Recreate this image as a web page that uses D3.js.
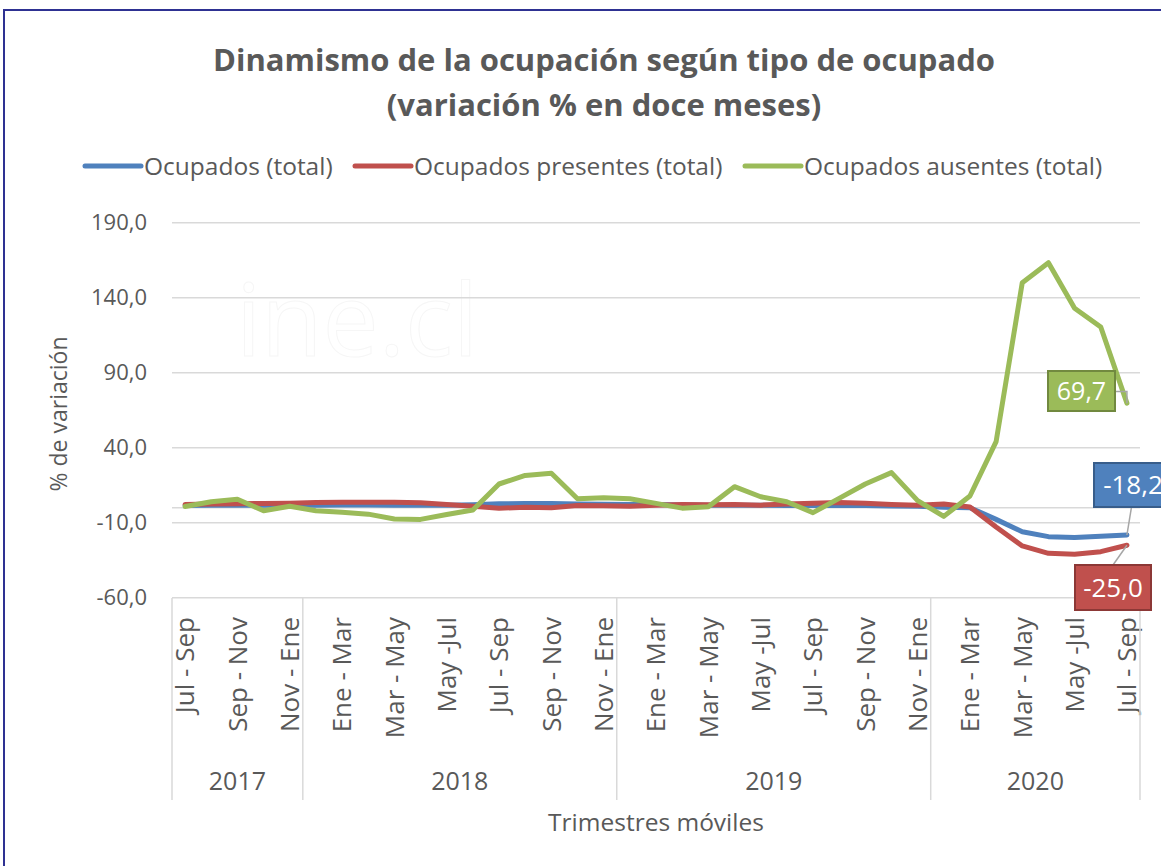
<!DOCTYPE html>
<html>
<head>
<meta charset="utf-8">
<script src="https://cdn.jsdelivr.net/npm/d3@7"></script>
<style>
  body { margin: 0; background: #fff; }
  svg text { font-family: "Open Sans", Lato, sans-serif; fill: #595959; }
</style>
</head>
<body>
<svg id="chart" width="1161" height="866"></svg>
<script>
var categories = [
  "Jul - Sep", "Ago - Oct", "Sep - Nov", "Oct - Dic", "Nov - Ene",
  "Dic - Feb", "Ene - Mar", "Feb - Abr", "Mar - May", "Abr - Jun", "May -Jul", "Jun - Ago",
  "Jul - Sep", "Ago - Oct", "Sep - Nov", "Oct - Dic", "Nov - Ene",
  "Dic - Feb", "Ene - Mar", "Feb - Abr", "Mar - May", "Abr - Jun", "May -Jul", "Jun - Ago",
  "Jul - Sep", "Ago - Oct", "Sep - Nov", "Oct - Dic", "Nov - Ene",
  "Dic - Feb", "Ene - Mar", "Feb - Abr", "Mar - May", "Abr - Jun", "May -Jul", "Jun - Ago",
  "Jul - Sep"
];
var years = ["2017", "2018", "2019", "2020"];
var yearCounts = [5, 12, 12, 8];
var yTicks = [-60, -10, 40, 90, 140, 190];

var ocupadosTotal = [1.5, 1.6, 1.7, 1.6, 1.6, 1.7, 1.8, 1.8, 1.7, 1.6, 1.6, 2.0,
  2.6, 2.8, 2.8, 2.5, 2.3, 2.2, 2.1, 1.8, 1.7, 1.6, 1.6, 1.5, 1.4, 1.5, 1.5, 1.2, 0.9,
  0.3, 0.0, -7.8, -16.0, -19.3, -19.8, -19.1, -18.2];
var ocupadosPresentes = [2.2, 2.4, 2.6, 2.8, 3.0, 3.4, 3.6, 3.7, 3.6, 3.3, 2.2, 1.0,
  -0.4, 0.3, 0.0, 1.4, 1.3, 1.0, 1.6, 2.2, 2.0, 2.2, 1.7, 2.4, 2.9, 3.4, 2.9, 2.2, 1.7,
  2.4, 0.5, -12.8, -25.5, -30.4, -31.0, -29.3, -25.0];
var ocupadosAusentes = [0.8, 4.0, 5.6, -2.0, 1.0, -2.0, -3.0, -4.3, -7.5, -7.8, -4.5, -1.5,
  15.8, 21.5, 23.0, 6.0, 6.7, 6.0, 2.9, -0.3, 0.7, 14.0, 7.3, 4.0, -3.3, 6.2, 15.8, 23.4, 4.7,
  -5.8, 7.8, 44.0, 150.0, 163.3, 133.0, 120.5, 69.7];

var seriesNames = ["Ocupados (total)", "Ocupados presentes (total)", "Ocupados ausentes (total)"];
var seriesColors = ["#4f81bd", "#c0504d", "#9bbb59"];
var seriesBorders = ["#385d8a", "#8c3836", "#71893f"];

var svg = d3.select("#chart");
var locale = d3.formatLocale({decimal: ",", thousands: ".", grouping: [3], currency: ["", ""], minus: "-"});
var fmt = locale.format(".1f");

// marco
svg.append("rect")
  .attr("x", 4).attr("y", 10).attr("width", 1200).attr("height", 900)
  .attr("fill", "none").attr("stroke", "#2e3192").attr("stroke-width", 2);

var x = d3.scaleBand()
  .domain(d3.range(categories.length))
  .range([172, 1140]);
var y = d3.scaleLinear()
  .domain([-60, 190])
  .range([597.7, 222.7]);

// marca de agua
svg.append("text")
  .attr("x", 236).attr("y", 356)
  .style("font-size", "100px")
  .style("fill", "none").attr("stroke", "#f6f6f6").attr("stroke-width", 1)
  .text("ine.cl");

// grilla
svg.append("g").selectAll("line")
  .data(yTicks.concat([0]))
  .enter().append("line")
  .attr("x1", 172).attr("x2", 1140)
  .attr("y1", function(d) { return y(d); })
  .attr("y2", function(d) { return y(d); })
  .attr("stroke", "#d9d9d9").attr("stroke-width", 1.5);

svg.append("g").selectAll("text")
  .data(yTicks)
  .enter().append("text")
  .attr("x", 147)
  .attr("y", function(d) { return y(d); })
  .attr("dy", "0.35em")
  .attr("text-anchor", "end")
  .style("font-size", "22px")
  .text(function(d) { return fmt(d); });

svg.append("text")
  .attr("transform", "translate(67,414) rotate(-90)")
  .attr("text-anchor", "middle")
  .style("font-size", "23px")
  .text("% de variación");

// eje de categorias (cada dos)
svg.append("g").selectAll("text")
  .data(categories.map(function(c, i) { return {c: c, i: i}; })
    .filter(function(d) { return d.i % 2 === 0; }))
  .enter().append("text")
  .attr("transform", function(d) {
    return "translate(" + (x(d.i) + x.bandwidth() / 2) + ",617) rotate(-90)";
  })
  .attr("dy", "0.36em")
  .attr("text-anchor", "end")
  .style("font-size", "26px")
  .text(function(d) { return d.c; });

var bounds = [0];
yearCounts.forEach(function(n, i) { bounds.push(bounds[i] + n); });
svg.append("g").selectAll("line")
  .data(bounds)
  .enter().append("line")
  .attr("x1", function(d) { return d < categories.length ? x(d) : x.range()[1]; })
  .attr("x2", function(d) { return d < categories.length ? x(d) : x.range()[1]; })
  .attr("y1", 598).attr("y2", 800)
  .attr("stroke", "#d9d9d9").attr("stroke-width", 1.5);

svg.append("g").selectAll("text")
  .data(years)
  .enter().append("text")
  .attr("x", function(d, i) {
    var a = x(bounds[i]);
    var b = bounds[i + 1] < categories.length ? x(bounds[i + 1]) : x.range()[1];
    return (a + b) / 2;
  })
  .attr("y", 781)
  .attr("dy", "0.35em")
  .attr("text-anchor", "middle")
  .style("font-size", "25px")
  .text(function(d) { return d; });

svg.append("text")
  .attr("x", 656).attr("y", 822).attr("dy", "0.35em")
  .attr("text-anchor", "middle")
  .style("font-size", "24.5px")
  .text("Trimestres móviles");

// titulo
svg.append("text")
  .attr("x", 604).attr("y", 71)
  .attr("text-anchor", "middle")
  .style("font-size", "31px").style("font-weight", "bold")
  .text("Dinamismo de la ocupación según tipo de ocupado");
svg.append("text")
  .attr("x", 604).attr("y", 116)
  .attr("text-anchor", "middle")
  .style("font-size", "31px").style("font-weight", "bold")
  .text("(variación % en doce meses)");

// series
var allSeries = [ocupadosTotal, ocupadosPresentes, ocupadosAusentes];
var line = d3.line()
  .x(function(d, i) { return x(i) + x.bandwidth() / 2; })
  .y(function(d) { return y(d); });

svg.append("g").selectAll("path")
  .data(allSeries)
  .enter().append("path")
  .attr("d", line)
  .attr("fill", "none")
  .attr("stroke", function(d, i) { return seriesColors[i]; })
  .attr("stroke-width", 5)
  .attr("stroke-linejoin", "round")
  .attr("stroke-linecap", "round");

// leyenda
var legendX = [85, 355, 745];
var legend = svg.append("g").selectAll("g")
  .data(seriesNames)
  .enter().append("g")
  .attr("transform", function(d, i) { return "translate(" + legendX[i] + ",166)"; });
legend.append("line")
  .attr("x1", 0).attr("x2", 56)
  .attr("stroke", function(d, i) { return seriesColors[i]; })
  .attr("stroke-width", 5).attr("stroke-linecap", "round");
legend.append("text")
  .attr("x", 59).attr("dy", "0.35em")
  .style("font-size", "24.5px")
  .text(function(d) { return d; });

// etiquetas de datos (ultimo punto)
var last = categories.length - 1;
var px = x(last) + x.bandwidth() / 2;
var labelBoxes = [
  {s: 0, bx: 1094, by: 463, w: 78, h: 44, leader: [[1131.5, 507], [px, y(ocupadosTotal[last])]]},
  {s: 1, bx: 1075, by: 565, w: 76, h: 45, leader: [[1113, 565], [px, y(ocupadosPresentes[last])]]},
  {s: 2, bx: 1048, by: 371, w: 67, h: 40, leader: [[1115, 391.5], [px, 391.5], [px, y(ocupadosAusentes[last])]]}
];
var lab = svg.append("g").selectAll("g")
  .data(labelBoxes)
  .enter().append("g");
lab.append("path")
  .attr("d", function(d) { return d3.line()(d.leader); })
  .attr("fill", "none").attr("stroke", "#a6a6a6").attr("stroke-width", 1.5);
lab.append("rect")
  .attr("x", function(d) { return d.bx; })
  .attr("y", function(d) { return d.by; })
  .attr("width", function(d) { return d.w; })
  .attr("height", function(d) { return d.h; })
  .attr("fill", function(d) { return seriesColors[d.s]; })
  .attr("stroke", function(d) { return seriesBorders[d.s]; })
  .attr("stroke-width", 2);
lab.append("text")
  .attr("x", function(d) { return d.bx + d.w / 2; })
  .attr("y", function(d) { return d.by + d.h / 2; })
  .attr("dy", "0.35em")
  .attr("text-anchor", "middle")
  .style("font-size", function(d) { return d.s === 2 ? "25px" : "26px"; })
  .style("fill", "#fff")
  .text(function(d) { return fmt(allSeries[d.s][last]); });
</script>
</body>
</html>
